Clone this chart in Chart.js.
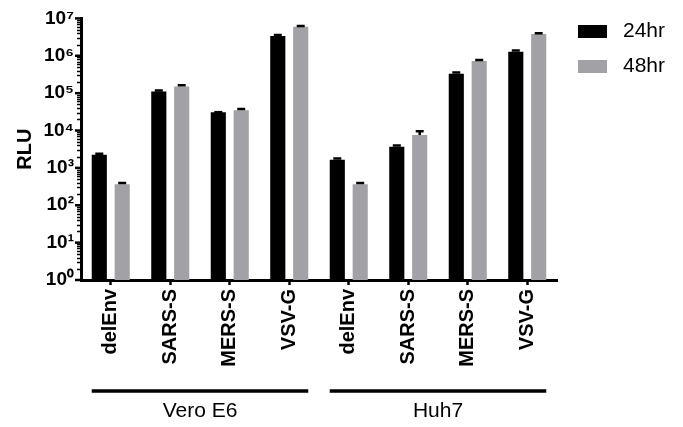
<!DOCTYPE html>
<html>
<head>
<meta charset="utf-8">
<script src="https://cdn.jsdelivr.net/npm/chart.js@4.4.1/dist/chart.umd.min.js"></script>
<style>
html,body{margin:0;padding:0;background:#fff;}
#wrap{width:683px;height:427px;position:relative;}
</style>
</head>
<body>
<div id="wrap"><canvas id="c" width="683" height="427"></canvas></div>
<script>
const categories = ['delEnv','SARS-S','MERS-S','VSV-G','delEnv','SARS-S','MERS-S','VSV-G'];
const groups = ['Vero E6','Huh7'];
const groupSize = 4;
const seriesNames = ['24hr','48hr'];
const rlu24 = [2240, 110000, 31000, 3400000, 1660, 3700, 330000, 1290000];
const err24 = [150, 8000, 0, 200000, 120, 300, 25000, 90000];
const rlu48 = [365, 150000, 35000, 6000000, 365, 7600, 730000, 3800000];
const err48 = [30, 12000, 2500, 300000, 30, 2000, 40000, 200000];
const yTickValues = [1, 10, 100, 1000, 10000, 100000, 1000000, 10000000];
const yTickLabels = ['10⁰','10¹','10²','10³','10⁴','10⁵','10⁶','10⁷'];

const FONT = '"Liberation Sans", Arial, Helvetica, sans-serif';
const colors = ['#000000', '#a1a1a6'];
const errors = [err24, err48];

const errorBars = {
  id: 'errorBars',
  afterDatasetsDraw(chart) {
    const ctx = chart.ctx, ys = chart.scales.y;
    ctx.save();
    ctx.strokeStyle = '#000';
    ctx.lineWidth = 2.5;
    chart.data.datasets.forEach((ds, di) => {
      const meta = chart.getDatasetMeta(di);
      meta.data.forEach((bar, i) => {
        const v = ds.data[i], e = errors[di][i];
        const y0 = ys.getPixelForValue(v);
        const y1 = ys.getPixelForValue(v + e);
        ctx.beginPath();
        ctx.moveTo(bar.x, y0);
        ctx.lineTo(bar.x, y1);
        ctx.moveTo(bar.x - 4, y1);
        ctx.lineTo(bar.x + 4, y1);
        ctx.stroke();
      });
    });
    ctx.restore();
  }
};

const extras = {
  id: 'extras',
  afterDraw(chart) {
    const ctx = chart.ctx, ys = chart.scales.y, area = chart.chartArea;
    ctx.save();
    ctx.strokeStyle = '#000';
    for (let d = 0; d < 7; d++) {
      for (let k = 2; k <= 9; k++) {
        const y = Math.round(ys.getPixelForValue(k * Math.pow(10, d))) + 0.5;
        ctx.lineWidth = 1.5;
        ctx.beginPath(); ctx.moveTo(area.left - 4, y); ctx.lineTo(area.left, y); ctx.stroke();
      }
    }
    yTickValues.forEach(v => {
      const y = ys.getPixelForValue(v);
      ctx.lineWidth = 2.5;
      ctx.beginPath(); ctx.moveTo(area.left - 6, y); ctx.lineTo(area.left, y); ctx.stroke();
    });
    const m0 = chart.getDatasetMeta(0), m1 = chart.getDatasetMeta(1);
    ctx.fillStyle = '#000';
    ctx.font = '21px ' + FONT;
    ctx.textAlign = 'center';
    ctx.textBaseline = 'middle';
    groups.forEach((g, gi) => {
      const a = m0.data[gi * groupSize], b = m1.data[gi * groupSize + groupSize - 1];
      const x0 = a.x - a.width / 2, x1 = b.x + b.width / 2;
      ctx.lineWidth = 3.5;
      ctx.beginPath(); ctx.moveTo(x0, 391); ctx.lineTo(x1, 391); ctx.stroke();
      ctx.fillText(g, (x0 + x1) / 2, 411);
    });
    ctx.textAlign = 'left';
    chart.data.datasets.forEach((ds, di) => {
      const yc = 31.5 + di * 35;
      ctx.fillStyle = ds.backgroundColor;
      ctx.fillRect(578, yc - 6.5, 29, 13);
      ctx.fillStyle = '#000';
      ctx.fillText(ds.label, 623, yc);
    });
    ctx.restore();
  }
};

new Chart(document.getElementById('c'), {
  type: 'bar',
  data: {
    labels: categories,
    datasets: [
      { label: seriesNames[0], data: rlu24, backgroundColor: colors[0] },
      { label: seriesNames[1], data: rlu48, backgroundColor: colors[1] }
    ]
  },
  options: {
    responsive: false,
    animation: false,
    devicePixelRatio: 1,
    layout: { padding: { top: 15, right: 126, left: 0, bottom: 0 } },
    datasets: { bar: { categoryPercentage: 0.77, barPercentage: 0.66 } },
    plugins: { legend: { display: false }, tooltip: { enabled: false } },
    scales: {
      x: {
        afterFit(s) { s.height = 147; },
        grid: { display: true, drawOnChartArea: false, offset: false, drawTicks: true, tickLength: 5, tickWidth: 2.5, tickColor: '#000' },
        border: { display: true, color: '#000', width: 3 },
        ticks: { color: '#000', minRotation: 90, maxRotation: 90, autoSkip: false, padding: 4,
                 font: { family: FONT, size: 20, weight: 'bold' } }
      },
      y: {
        type: 'logarithmic',
        min: 1, max: 10000000,
        afterFit(s) { s.width = 81; },
        afterBuildTicks(s) { s.ticks = yTickValues.map(v => ({ value: v, major: true })); },
        grid: { display: true, drawOnChartArea: false, drawTicks: false },
        border: { display: true, color: '#000', width: 3 },
        ticks: { color: '#000', padding: 7, autoSkip: false,
                 font: { family: FONT, size: 19, weight: 'bold' },
                 callback(v) { const i = yTickValues.indexOf(v); return i >= 0 ? yTickLabels[i] : ''; } },
        title: { display: true, text: 'RLU', color: '#000', padding: { top: 13, bottom: 0 },
                 font: { family: FONT, size: 20, weight: 'bold' } }
      }
    }
  },
  plugins: [errorBars, extras]
});
</script>
</body>
</html>
